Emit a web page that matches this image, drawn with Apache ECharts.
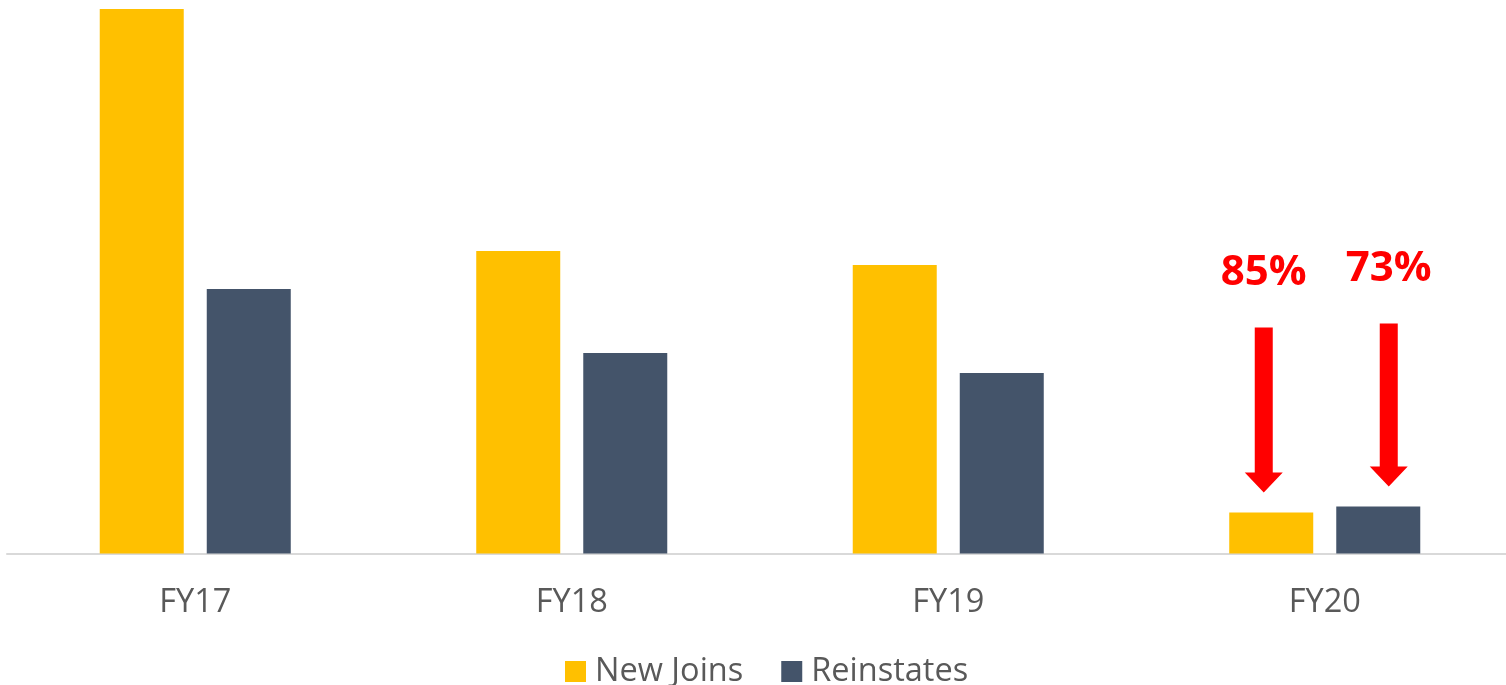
<!DOCTYPE html>
<html>
<head>
<meta charset="utf-8">
<script src="https://cdn.jsdelivr.net/npm/echarts@6/dist/echarts.min.js"></script>
<style>
html,body{margin:0;padding:0;background:#fff;overflow:hidden;width:1506px;height:685px;}
#chart{width:1513px;height:685px;}
</style>
</head>
<body>
<div id="chart"></div>
<script>
var categories = ['FY17', 'FY18', 'FY19', 'FY20'];
var newJoins = [544.5, 302.5, 288.5, 41];
var reinstates = [264.5, 200.5, 180.5, 47];
var seriesNames = ['New Joins', 'Reinstates'];
var dropLabels = ['85%', '73%'];

var chart = echarts.init(document.getElementById('chart'), null, {renderer: 'canvas'});
var FONT = '"Open Sans", "Noto Sans", sans-serif';
var option = {
  animation: false,
  grid: {left: 7, right: 0, top: 9, bottom: 131.5, containLabel: false},
  legend: {
    data: seriesNames,
    left: 560,
    top: 650,
    itemWidth: 21,
    itemHeight: 21,
    itemGap: 38,
    icon: 'rect',
    textStyle: {fontFamily: FONT, fontSize: 32.5, color: '#595959', padding: [0, 0, 0, 4]}
  },
  xAxis: {
    type: 'category',
    data: categories,
    axisLine: {show: true, lineStyle: {color: '#d9d9d9', width: 2}},
    axisTick: {show: false},
    axisLabel: {fontFamily: FONT, fontSize: 32.5, color: '#595959', margin: 33}
  },
  yAxis: {
    type: 'value',
    min: 0,
    max: 'dataMax',
    show: false,
    splitLine: {show: false}
  },
  series: [
    {name: seriesNames[0], type: 'bar', data: newJoins, barWidth: 84, barGap: '27.4%',
     itemStyle: {color: '#FFC000'}},
    {name: seriesNames[1], type: 'bar', data: reinstates, barWidth: 84,
     itemStyle: {color: '#44546A'}}
  ]
};
chart.setOption(option);

// annotations for the last category
var last = categories.length - 1;
var base = chart.convertToPixel({xAxisIndex: 0, yAxisIndex: 0}, [last, 0]);
var topNJ = chart.convertToPixel({xAxisIndex: 0, yAxisIndex: 0}, [last, newJoins[last]]);
var topR = chart.convertToPixel({xAxisIndex: 0, yAxisIndex: 0}, [last, reinstates[last]]);
var cx = base[0];
var specs = [
  {x: cx - 61, barTop: topNJ[1], label: dropLabels[0], shaftLen: 165, textOff: 239},
  {x: cx + 64, barTop: topR[1], label: dropLabels[1], shaftLen: 163, textOff: 237}
];
var graphics = [];
specs.forEach(function (s) {
  var tip = s.barTop - 20;
  var headTop = tip - 20;
  var shaftTop = tip - s.shaftLen;
  graphics.push({
    type: 'polygon',
    shape: {points: [
      [s.x - 9, shaftTop], [s.x + 9, shaftTop], [s.x + 9, headTop], [s.x + 19, headTop],
      [s.x, tip], [s.x - 19, headTop], [s.x - 9, headTop]
    ]},
    style: {fill: '#FF0000'}
  });
  graphics.push({
    type: 'text',
    x: s.x,
    y: s.barTop - s.textOff,
    style: {text: s.label, fontFamily: FONT, fontSize: 42, fontWeight: 'bold', fill: '#FF0000',
            align: 'center', verticalAlign: 'middle'}
  });
});
chart.setOption({graphic: graphics});
</script>
</body>
</html>
